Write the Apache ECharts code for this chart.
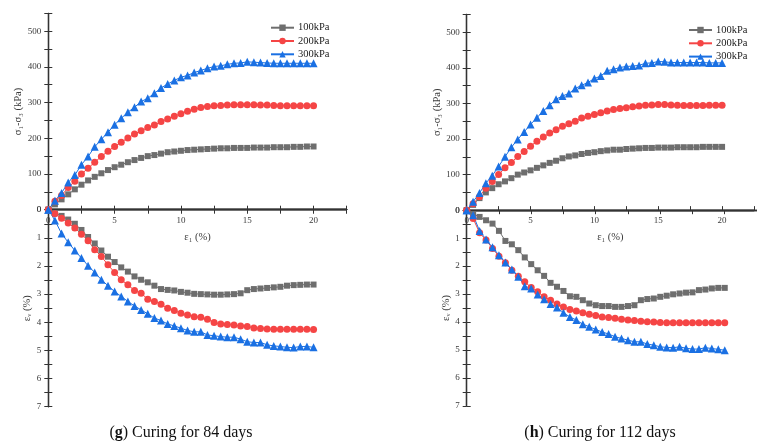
<!DOCTYPE html>
<html>
<head>
<meta charset="utf-8">
<script src="https://cdn.jsdelivr.net/npm/echarts@6/dist/echarts.min.js"></script>
<style>html,body{margin:0;padding:0;background:#fff}#c{width:757px;height:446px}</style>
</head>
<body>
<div id="c"></div>
<script>
// axial strain ε1 (%)
const strain = [0,0.5,1,1.5,2,2.5,3,3.5,4,4.5,5,5.5,6,6.5,7,7.5,8,8.5,9,9.5,10,10.5,11,11.5,12,12.5,13,13.5,14,14.5,15,15.5,16,16.5,17,17.5,18,18.5,19,19.5,20];
const seriesNames = ['100kPa','200kPa','300kPa'];
const captions = [['g',' Curing for 84 days'],['h',' Curing for 112 days']];
const xTicks = [0,5,10,15,20];
const stressTicks = [0,100,200,300,400,500];
const volTicks = [0,1,2,3,4,5,6,7];

// (g) 84 days: deviator stress σ1-σ3 (kPa)
const g100U = [0,15,29,43,57,70,82,92,102,111,119,126,133,139,145,150,153,157,161,163,165,167,168,169,170,171,172,172,173,173,173,174,174,174,175,175,175,176,176,177,177];
const g200U = [0,24,40,62,80,100,116,133,149,164,177,189,201,212,221,230,237,247,254,262,269,276,281,286,289,291,292,293,294,294,294,294,293,293,292,291,291,291,291,291,291];
const g300U = [0,25,47,76,97,126,149,176,197,217,238,256,273,287,303,312,326,341,352,362,371,376,384,390,396,401,403,407,410,411,414,413,412,411,410,410,410,410,410,410,410];
// (g) 84 days: volumetric strain εv (%)
const g100L = [0,0.12,0.22,0.35,0.5,0.72,0.97,1.2,1.45,1.67,1.86,2.05,2.2,2.37,2.49,2.58,2.7,2.82,2.85,2.87,2.92,2.95,2.99,3.0,3.01,3.02,3.02,3.01,3.0,2.97,2.86,2.82,2.80,2.78,2.76,2.74,2.70,2.68,2.67,2.66,2.66];
const g200L = [0,0.14,0.30,0.47,0.65,0.87,1.10,1.42,1.66,1.96,2.23,2.49,2.67,2.87,2.97,3.18,3.26,3.36,3.50,3.58,3.68,3.74,3.80,3.82,3.89,4.01,4.06,4.08,4.10,4.13,4.15,4.20,4.22,4.24,4.25,4.25,4.25,4.25,4.25,4.25,4.26];
const g300L = [0,0.38,0.85,1.16,1.45,1.72,1.99,2.23,2.49,2.70,2.91,3.08,3.26,3.42,3.56,3.70,3.85,3.94,4.06,4.13,4.21,4.29,4.34,4.34,4.45,4.48,4.51,4.53,4.53,4.60,4.69,4.72,4.72,4.80,4.84,4.86,4.89,4.90,4.86,4.86,4.89];
// (h) 112 days: deviator stress
const h100U = [0,15,34,50,62,73,81,90,100,106,112,119,126,133,139,146,151,154,158,161,163,166,168,170,170,172,173,174,175,175,176,176,176,177,177,177,177,178,178,178,178];
const h200U = [0,18,38,62,81,100,119,134,151,165,180,194,206,217,226,236,243,250,259,264,269,274,279,283,286,288,291,293,295,296,297,297,296,295,294,294,294,294,295,295,295];
const h300U = [0,24,48,76,97,123,150,177,199,220,241,260,279,295,312,321,328,342,351,359,370,377,392,396,401,404,405,407,413,414,418,417,415,415,415,415,415,415,414,414,414];
// (h) 112 days: volumetric strain
const h100L = [0,0.14,0.24,0.36,0.48,0.74,1.10,1.22,1.43,1.69,1.93,2.15,2.35,2.60,2.74,2.89,3.08,3.10,3.22,3.34,3.40,3.43,3.43,3.46,3.46,3.43,3.40,3.22,3.18,3.16,3.10,3.06,3.01,2.98,2.95,2.94,2.86,2.84,2.80,2.78,2.78];
const h200L = [0,0.30,0.81,1.07,1.37,1.65,1.88,2.15,2.36,2.56,2.77,2.92,3.10,3.22,3.36,3.46,3.55,3.61,3.67,3.72,3.77,3.82,3.84,3.87,3.90,3.93,3.95,3.97,3.99,4.00,4.02,4.03,4.03,4.03,4.03,4.03,4.03,4.03,4.03,4.03,4.03];
const h300L = [0,0.18,0.74,1.05,1.33,1.61,1.87,2.12,2.38,2.72,2.80,3.02,3.19,3.36,3.48,3.67,3.82,3.93,4.08,4.17,4.27,4.36,4.43,4.53,4.59,4.65,4.71,4.71,4.79,4.83,4.89,4.91,4.92,4.89,4.94,4.97,4.97,4.92,4.95,4.98,5.01];

const FONT = '"Liberation Serif","Times New Roman",serif';
const AX = '#333';
const LBL = '#3a3a3a';
const colors = ['#6e6e6e','#f54545','#1a70e3'];
const symbols = ['rect','circle','triangle'];
const symSizes = [6,7,8];

const chart = echarts.init(document.getElementById('c'));

const panels = [
  {left:48.3, width:298.4, topU:13.3, mid:209.7, bot:406.7, data:[[g100U,g200U,g300U],[g100L,g200L,g300L]], legendLeft:265, legendTop:16.7},
  {left:466.7, width:296.2, topU:14.5, mid:210.2, bot:405.8, data:[[h100U,h200U,h300U],[h100L,h200L,h300L]], legendLeft:683, legendTop:19}
];

const grid=[], xAxis=[], yAxis=[], series=[], legend=[], graphic=[];
const lineStyle = {show:true, lineStyle:{color:AX, width:1.3}};
const labelBase = {color:LBL, fontFamily:FONT, fontSize:9};

function showIf(list){ return v => list.indexOf(Math.round(v*1000)/1000) >= 0 ? String(v) : ''; }

panels.forEach((p, pi) => {
  const gU = grid.length;
  grid.push({left:p.left, top:p.topU, width:p.width, height:p.mid - p.topU});
  const gL = grid.length;
  grid.push({left:p.left, top:p.mid, width:p.width, height:p.bot - p.mid});

  const xBase = {type:'value', min:0, max:22.5, splitLine:{show:false}, axisLine:lineStyle};
  // upper grid bottom axis (the middle line with labels)
  const xMid = xAxis.length;
  xAxis.push(Object.assign({}, xBase, {gridIndex:gU, position:'bottom', interval:2.5,
    axisTick:{show:true, inside:true, length:3.5, lineStyle:{color:AX}},
    axisLabel:Object.assign({}, labelBase, {margin:6, formatter:showIf(xTicks)}),
    name:'ε₁ (%)', nameLocation:'middle', nameGap:22,
    nameTextStyle:{color:LBL, fontFamily:FONT, fontSize:10.5}}));
  xAxis.push(Object.assign({}, xBase, {gridIndex:gU, position:'top', interval:2.5,
    axisTick:{show:true, inside:false, length:4, lineStyle:{color:AX}}, axisLabel:{show:false}}));
  const xLow = xAxis.length;
  xAxis.push(Object.assign({}, xBase, {gridIndex:gL, position:'top', interval:5,
    axisTick:{show:true, inside:true, length:3.5, lineStyle:{color:AX}}, axisLabel:{show:false}}));
  xAxis.push(Object.assign({}, xBase, {gridIndex:gL, position:'bottom', interval:2.5,
    axisTick:{show:true, inside:false, length:4, lineStyle:{color:AX}}, axisLabel:{show:false}}));

  const yU = yAxis.length;
  yAxis.push({type:'value', gridIndex:gU, position:'left', min:0, max:550, interval:50,
    splitLine:{show:false}, axisLine:lineStyle,
    axisTick:{show:true, inside:false, length:4, lineStyle:{color:AX}},
    axisLabel:Object.assign({}, labelBase, {margin:7, formatter:showIf(stressTicks)}),
    name:'σ₁-σ₃ (kPa)', nameLocation:'middle', nameGap:23,
    nameTextStyle:{color:LBL, fontFamily:FONT, fontSize:10.5}});
  yAxis.push({type:'value', gridIndex:gU, position:'right', min:0, max:550, interval:50,
    splitLine:{show:false}, axisLine:lineStyle,
    axisTick:{show:true, inside:false, length:4, lineStyle:{color:AX}}, axisLabel:{show:false}});
  const yL = yAxis.length;
  yAxis.push({type:'value', gridIndex:gL, position:'left', min:0, max:7, interval:0.5, inverse:true,
    splitLine:{show:false}, axisLine:lineStyle,
    axisTick:{show:true, inside:false, length:4, lineStyle:{color:AX}},
    axisLabel:Object.assign({}, labelBase, {margin:7, formatter:showIf(volTicks)}),
    name:'εᵥ (%)', nameLocation:'middle', nameGap:15,
    nameTextStyle:{color:LBL, fontFamily:FONT, fontSize:10.5}});
  yAxis.push({type:'value', gridIndex:gL, position:'right', min:0, max:7, interval:0.5, inverse:true,
    splitLine:{show:false}, axisLine:lineStyle,
    axisTick:{show:true, inside:false, length:4, lineStyle:{color:AX}}, axisLabel:{show:false}});

  [[xMid, yU, p.data[0]], [xLow, yL, p.data[1]]].forEach(([xi, yi, sets]) => {
    sets.forEach((vals, k) => {
      series.push({
        type:'line', name:seriesNames[k], xAxisIndex:xi, yAxisIndex:yi,
        data: strain.map((s, i) => [s, vals[i]]),
        symbol:symbols[k], symbolSize:symSizes[k], showSymbol:true,
        lineStyle:{color:colors[k], width:1}, itemStyle:{color:colors[k]},
        emphasis:{disabled:true}, animation:false
      });
    });
  });

  legend.push({orient:'vertical', left:p.legendLeft, top:p.legendTop, data:seriesNames,
    itemWidth:23, itemHeight:8, itemGap:1.3, selectedMode:false,
    textStyle:{color:'#222', fontFamily:FONT, fontSize:10.5, lineHeight:12, padding:[0,0,0,-1]}});

  const cx = pi === 0 ? 181 : 600;
  graphic.push({type:'text', x:cx, y:433, style:{
    text:'({b|' + captions[pi][0] + '})' + captions[pi][1],
    font:'16px ' + FONT, fill:'#111', align:'center', verticalAlign:'middle',
    rich:{b:{fontWeight:'bold', fontFamily:FONT, fontSize:16, fill:'#111'}}
  }});
});

chart.setOption({animation:false, backgroundColor:'#fff', grid, xAxis, yAxis, series, legend, graphic});
</script>
</body>
</html>
